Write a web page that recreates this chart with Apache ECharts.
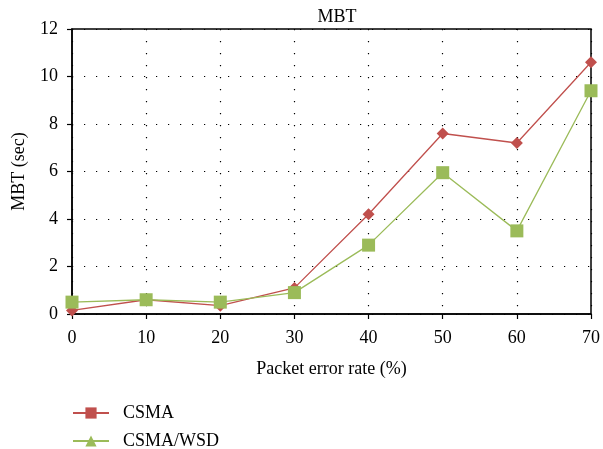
<!DOCTYPE html>
<html>
<head>
<meta charset="utf-8">
<script src="https://cdn.jsdelivr.net/npm/echarts@6/dist/echarts.min.js"></script>
<style>
  html, body { margin: 0; padding: 0; background: #fff; }
  #chart { width: 603px; height: 449px; }
</style>
</head>
<body>
<div id="chart"></div>
<script>
// Packet error rate (%) on the x axis
const errorRates = [0, 10, 20, 30, 40, 50, 60, 70];
// MBT in seconds for each protocol
const csmaValues = [0.15, 0.6, 0.35, 1.1, 4.2, 7.6, 7.2, 10.6];
const csmaWsdValues = [0.5, 0.6, 0.5, 0.9, 2.9, 5.95, 3.5, 9.4];
const seriesNames = ['CSMA', 'CSMA/WSD'];

const RED = '#c0504d';
const GREEN = '#9bbb59';
const FONT = 'Liberation Serif';

const pairs = vals => errorRates.map((x, i) => [x, vals[i]]);

const chart = echarts.init(document.getElementById('chart'), null, { renderer: 'canvas' });

const dotted = { color: '#000', width: 1.2, type: [1.2, 10.8] };

chart.setOption({
  animation: false,
  textStyle: { fontFamily: FONT, color: '#000' },
  title: {
    text: 'MBT', left: 332, top: 3, textAlign: 'center',
    textStyle: { fontFamily: FONT, fontWeight: 'normal', fontSize: 18, color: '#000' }
  },
  grid: {
    left: 72, right: 10, top: 29, bottom: 135,
    show: true, borderColor: '#000', borderWidth: 1.5, backgroundColor: 'transparent'
  },
  legend: {
    orient: 'vertical', left: 72, top: 404, height: 60, padding: 0,
    itemWidth: 36, itemHeight: 14, itemGap: 10,
    textStyle: { fontFamily: FONT, fontSize: 18, lineHeight: 14, color: '#000', padding: [0, 0, 0, 9] },
    data: seriesNames
  },
  xAxis: {
    type: 'value', min: 0, max: 70, interval: 10,
    name: 'Packet error rate (%)', nameLocation: 'middle', nameGap: 46,
    nameTextStyle: { fontFamily: FONT, fontSize: 18, color: '#000' },
    axisLine: { show: true, lineStyle: { color: '#000', width: 1.5 } },
    axisTick: { show: true, inside: false, length: 5, lineStyle: { color: '#000', width: 1.2 } },
    axisLabel: { fontFamily: FONT, fontSize: 18, color: '#000', margin: 15 },
    splitLine: { show: true, lineStyle: dotted }
  },
  yAxis: {
    type: 'value', min: 0, max: 12, interval: 2,
    name: 'MBT (sec)', nameLocation: 'middle', nameGap: 44, nameRotate: 90,
    nameTextStyle: { fontFamily: FONT, fontSize: 18, color: '#000' },
    axisLine: { show: true, lineStyle: { color: '#000', width: 1.5 } },
    axisTick: { show: true, inside: false, length: 5, lineStyle: { color: '#000', width: 1.2 } },
    axisLabel: { fontFamily: FONT, fontSize: 18, color: '#000', margin: 14 },
    splitLine: { show: true, lineStyle: dotted }
  },
  series: [
    // legend entries: line with a square / triangle marker
    {
      name: seriesNames[0], type: 'line', data: [], symbol: 'rect', symbolSize: 12,
      itemStyle: { color: RED }, lineStyle: { color: RED, width: 1.5 }
    },
    {
      name: seriesNames[1], type: 'line', data: [], symbol: 'triangle', symbolSize: 12,
      itemStyle: { color: GREEN }, lineStyle: { color: GREEN, width: 1.5 }
    },
    // plotted curves
    {
      name: seriesNames[0], type: 'line', data: pairs(csmaValues),
      symbol: 'diamond', symbolSize: 12, showAllSymbol: true,
      itemStyle: { color: RED }, lineStyle: { color: RED, width: 1.3 }, z: 3
    },
    {
      name: seriesNames[1], type: 'line', data: pairs(csmaWsdValues),
      symbol: 'rect', symbolSize: 13, showAllSymbol: true,
      itemStyle: { color: GREEN }, lineStyle: { color: GREEN, width: 1.3 }, z: 4
    }
  ]
});
</script>
</body>
</html>
